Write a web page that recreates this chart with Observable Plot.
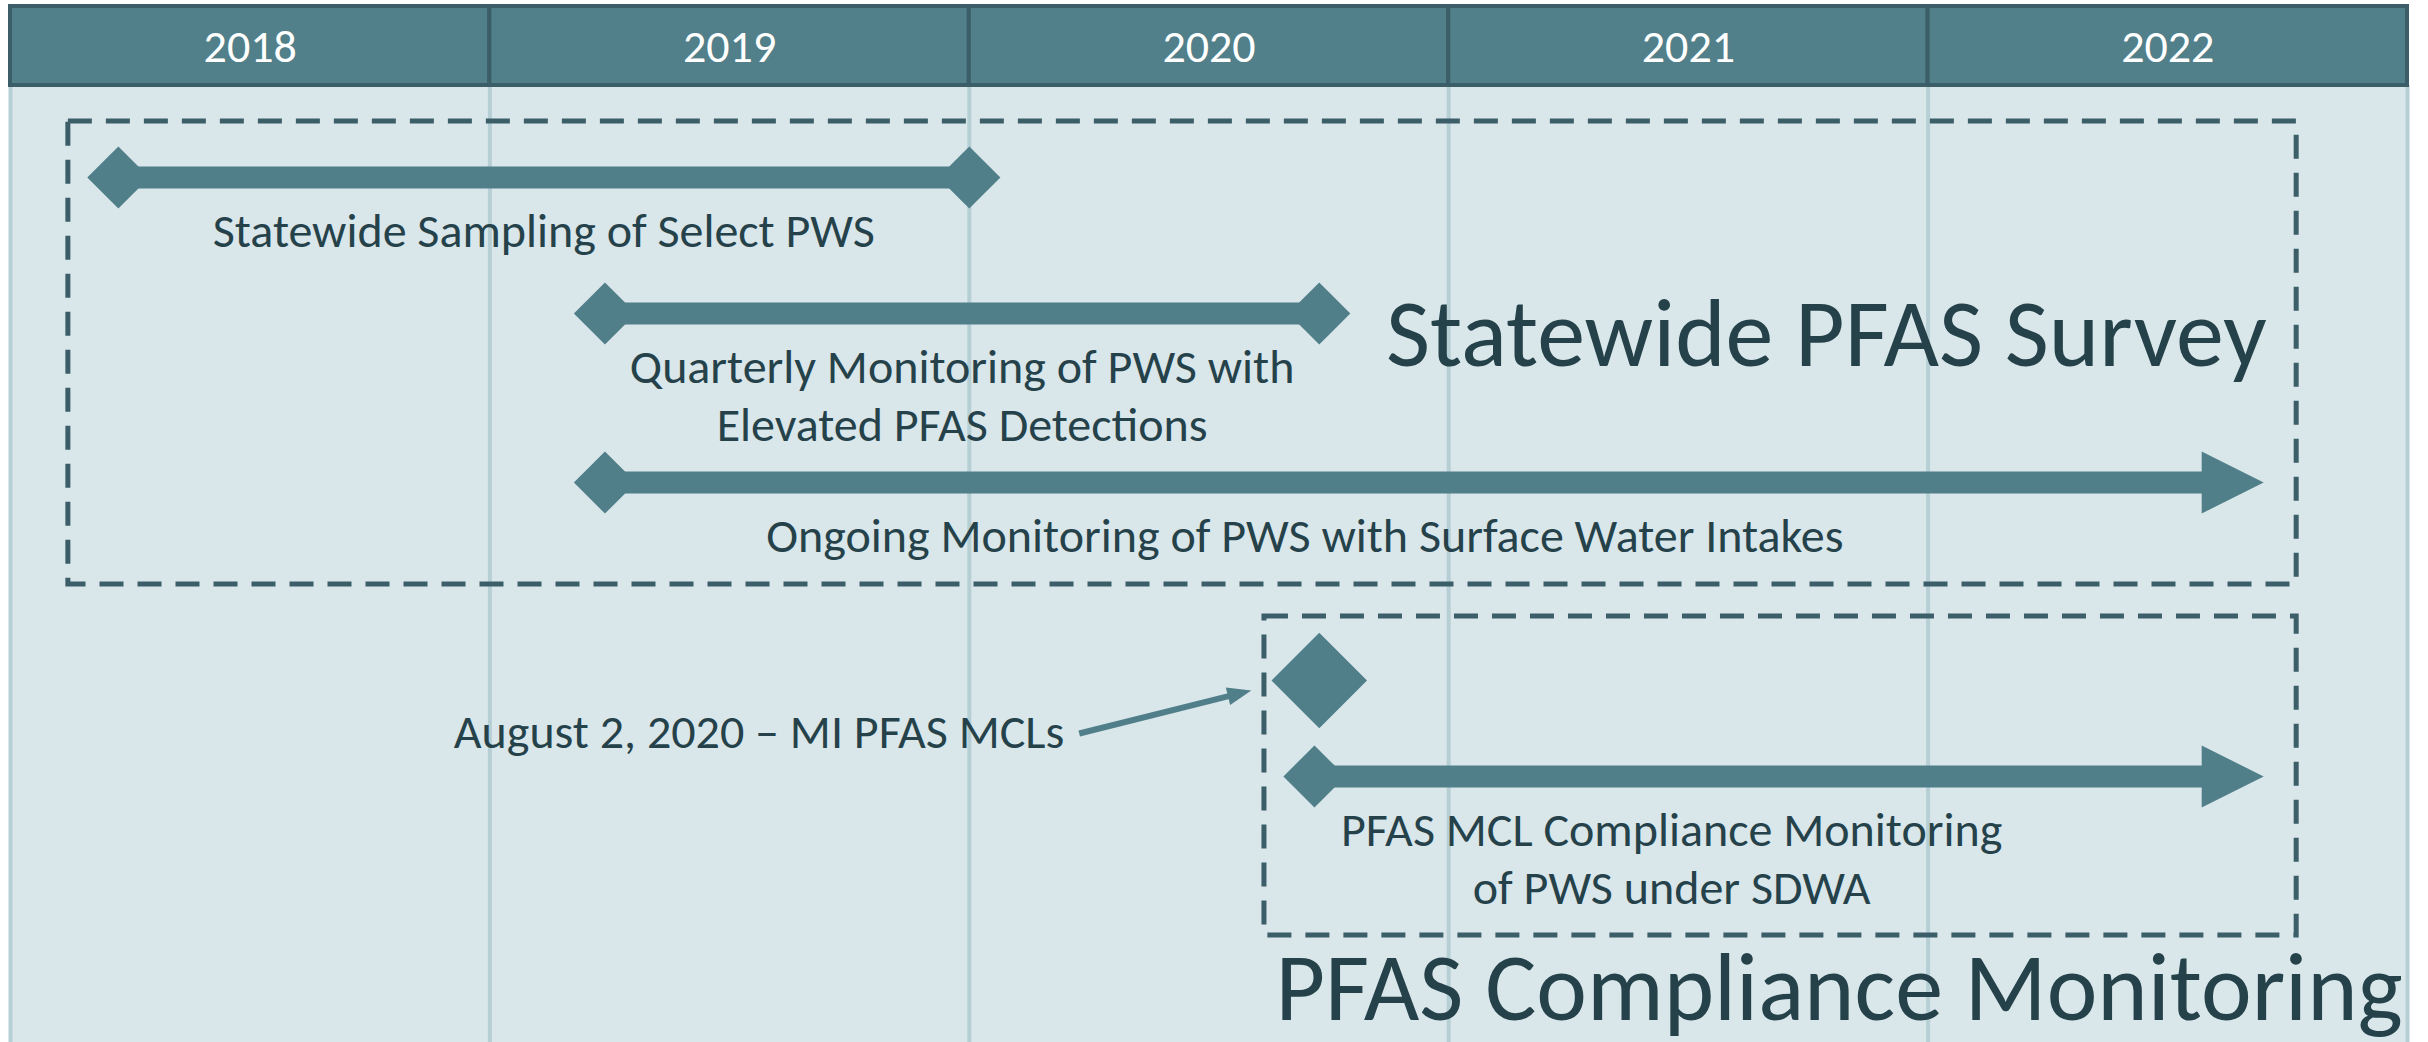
<!DOCTYPE html>
<html><head><meta charset="utf-8">
<script src="https://cdn.jsdelivr.net/npm/d3@7"></script>
<script src="https://cdn.jsdelivr.net/npm/@observablehq/plot@0.6"></script>
<style>body{margin:0;background:#fff}</style>
</head><body><div id="chart"></div>
<script>
// ---------------- data ----------------
const years = [2018, 2019, 2020, 2021, 2022];
const yearLabels = ["2018", "2019", "2020", "2021", "2022"];
const activities = [
  "Statewide Sampling of Select PWS",
  "Quarterly Monitoring of PWS with\nElevated PFAS Detections",
  "Ongoing Monitoring of PWS with Surface Water Intakes",
  "PFAS MCL Compliance Monitoring\nof PWS under SDWA"
];
const activityStart = [2018.225, 2019.24, 2019.24, 2020.72];
const activityEnd = [2020.0, 2020.73, 2022.70, 2022.70];
const activityOngoing = [false, false, true, true];
const activityGroup = ["Statewide PFAS Survey", "Statewide PFAS Survey", "Statewide PFAS Survey", "PFAS Compliance Monitoring"];
const groups = ["Statewide PFAS Survey", "PFAS Compliance Monitoring"];
const milestoneLabel = "August 2, 2020 – MI PFAS MCLs";
const milestoneDate = 2020.73;
const milestoneGroup = "PFAS Compliance Monitoring";

// ---------------- layout & style ----------------
const W = 2428, H = 1042, ML = 10, MR = 21;
const pxPerYear = (W - ML - MR) / (years.length);
const px = n => n / pxPerYear;
const HEAD = [6, 85];
const laneY = [177, 313, 482, 776];
const labelAt = [null, null, 2020.70, 2021.465];
const milestoneY = 680;
const groupY = {"Statewide PFAS Survey": [121, 584], "PFAS Compliance Monitoring": [616, 935]};
const groupTitle = {
  "Statewide PFAS Survey": {anchor: "end", y: 365},
  "PFAS Compliance Monitoring": {anchor: "start", y: 1019}
};
const C = {
  head: "#517F8A", headEdge: "#3B5E68", body: "#D9E6EA", grid: "#B6CFD5",
  bar: "#507F8A", text: "#25424A", box: "#3B5E68"
};
const FONT = "Carlito, Calibri, 'Open Sans', sans-serif";

const rows = activities.map((name, i) => ({
  name, start: activityStart[i], end: activityEnd[i], ongoing: activityOngoing[i],
  y: laneY[i], lx: labelAt[i] ?? (activityStart[i] + activityEnd[i]) / 2
}));

const boxes = groups.map(g => {
  const idx = activities.map((_, i) => i).filter(i => activityGroup[i] === g);
  let lo = d3.min(idx, i => activityStart[i]);
  const hi = d3.max(idx, i => activityEnd[i]);
  if (g === milestoneGroup) lo = Math.min(lo, milestoneDate);
  const x1 = lo - px(50), x2 = hi + px(33);
  const t = groupTitle[g];
  return {g, x1, x2, y1: groupY[g][0], y2: groupY[g][1],
          tx: t.anchor === "end" ? x2 - px(30) : x1 + px(11), ty: t.y, anchor: t.anchor};
});

const arrowHead = {
  draw(ctx, size) {
    const r = Math.sqrt(size / Math.PI);
    ctx.moveTo(0, 0); ctx.lineTo(-2 * r, -r); ctx.lineTo(-2 * r, r); ctx.closePath();
  }
};

// milestone call-out arrow (pixel offsets from the marker)
const A = {x1: -240, y1: 733, x2: -68, y2: 690};
const theta = Math.atan2(A.y2 - A.y1, A.x2 - A.x1);
const tipSymbol = {
  draw(ctx) {
    const L = 24, w = 9, c = Math.cos(theta), s = Math.sin(theta);
    ctx.moveTo(0, 0);
    ctx.lineTo(-L * c + w * s, -L * s - w * c);
    ctx.lineTo(-L * c - w * s, -L * s + w * c);
    ctx.closePath();
  }
};
const milestone = [{
  x: milestoneDate, y: milestoneY, label: milestoneLabel,
  ax1: milestoneDate + px(A.x1), ay1: A.y1,
  ax2: milestoneDate + px(A.x2), ay2: A.y2,
  lx2: milestoneDate + px(A.x2 - 16 * Math.cos(theta)), ly2: A.y2 - 16 * Math.sin(theta),
  tx: milestoneDate - px(255), ty: 747
}];

const chart = Plot.plot({
  width: W, height: H,
  marginLeft: ML, marginRight: MR, marginTop: 0, marginBottom: 0,
  x: {domain: [years[0], years[years.length - 1] + 1], axis: null},
  y: {type: "identity", axis: null},
  style: {fontFamily: FONT, background: "#fff"},
  marks: [
    Plot.rect([{x1: years[0], x2: years[years.length - 1] + 1}], {x1: "x1", x2: "x2", y1: HEAD[1], y2: H, fill: C.body}),
    Plot.ruleX([...years, years[years.length - 1] + 1], {y1: HEAD[1], y2: H, stroke: C.grid, strokeWidth: 4}),
    Plot.rect(years, {x1: d => d, x2: d => d + 1, y1: HEAD[0], y2: HEAD[1], fill: C.head, stroke: C.headEdge, strokeWidth: 4}),
    Plot.text(years, {x: d => d + 0.5, y: 47, text: (d, i) => yearLabels[i], fill: "#fff", fontSize: 46}),
    Plot.rect(boxes, {x1: "x1", x2: "x2", y1: "y1", y2: "y2", fill: "none", stroke: C.box, strokeWidth: 5, strokeDasharray: "24,14"}),
    Plot.ruleY(rows, {y: "y", x1: "start", x2: d => d.ongoing ? d.end - px(30) : d.end, stroke: C.bar, strokeWidth: 22}),
    Plot.dot(rows, {x: "start", y: "y", symbol: "diamond2", r: 28, fill: C.bar}),
    Plot.dot(rows.filter(d => !d.ongoing), {x: "end", y: "y", symbol: "diamond2", r: 28, fill: C.bar}),
    Plot.dot(rows.filter(d => d.ongoing), {x: "end", y: "y", symbol: arrowHead, r: 31, fill: C.bar}),
    Plot.dot(milestone, {x: "x", y: "y", symbol: "diamond2", r: 43, fill: C.bar}),
    Plot.link(milestone, {x1: "ax1", y1: "ay1", x2: "lx2", y2: "ly2", stroke: C.bar, strokeWidth: 6}),
    Plot.dot(milestone, {x: "ax2", y: "ay2", symbol: tipSymbol, r: 10, fill: C.bar}),
    Plot.text(milestone, {x: "tx", y: "ty", text: "label", textAnchor: "end", lineAnchor: "bottom", fontSize: 48, fill: C.text}),
    Plot.text(rows, {x: "lx", y: d => d.y + 29, text: "name", lineAnchor: "top", lineHeight: 1.2, fontSize: 48, fill: C.text}),
    Plot.text(boxes.filter(d => d.anchor === "end"), {x: "tx", y: "ty", text: "g", textAnchor: "end", lineAnchor: "bottom", fontSize: 96, fill: C.text}),
    Plot.text(boxes.filter(d => d.anchor === "start"), {x: "tx", y: "ty", text: "g", textAnchor: "start", lineAnchor: "bottom", fontSize: 96, fill: C.text})
  ]
});
document.getElementById("chart").appendChild(chart);
</script></body></html>
